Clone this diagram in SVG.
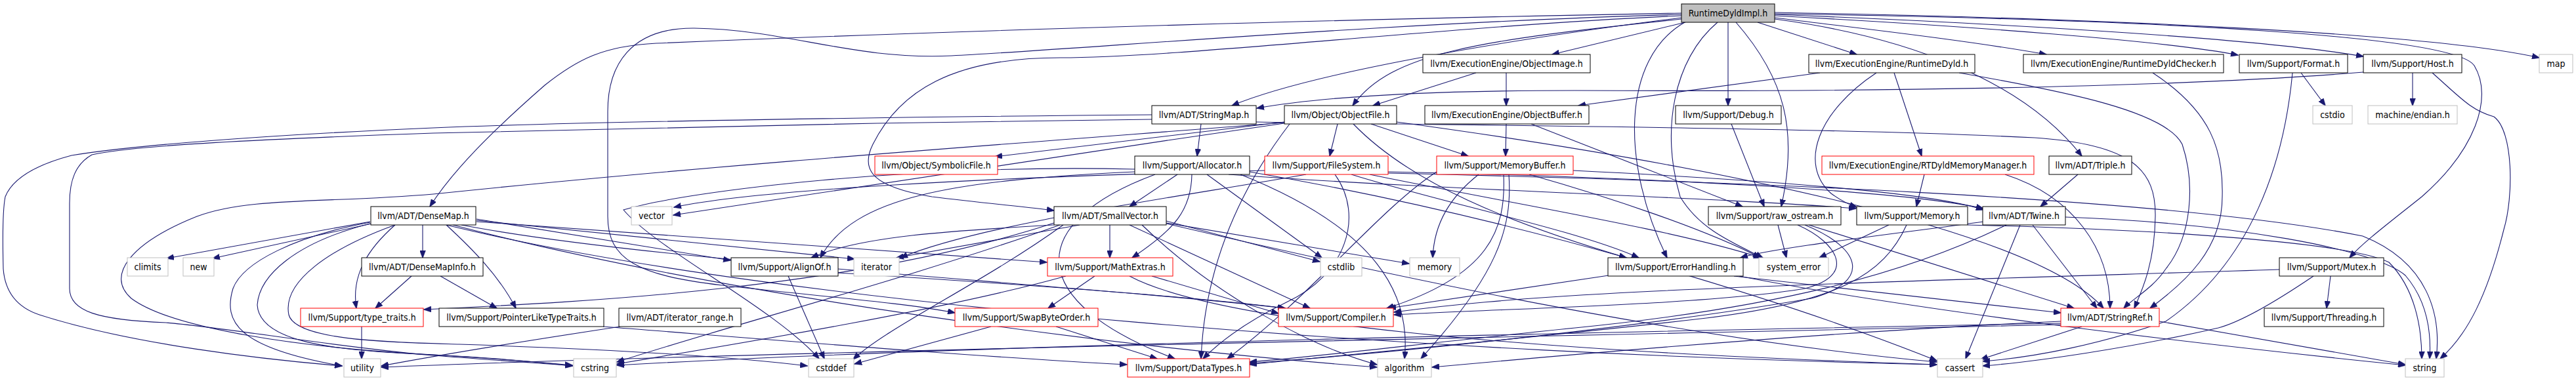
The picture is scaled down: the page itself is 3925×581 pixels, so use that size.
<svg xmlns="http://www.w3.org/2000/svg" width="3925" height="581" viewBox="0 0 3925 581">
<style>
rect{fill:#fff;stroke:#000;stroke-width:1}
.r rect{stroke:#ff0000}
.g rect{stroke:#bfbfbf}
.root rect{fill:#bfbfbf}
text{font-family:"DejaVu Sans Condensed","Liberation Sans",sans-serif;font-size:14px;text-anchor:middle;fill:#000}
#edges path{fill:none;stroke:#191970;stroke-width:1.1;marker-end:url(#a)}
</style>
<defs>
<marker id="a" viewBox="0 0 12 9" refX="11" refY="4.5" markerWidth="12" markerHeight="9" markerUnits="userSpaceOnUse" orient="auto"><path d="M0,0L12,4.5L0,9z" fill="#191970" stroke="#191970" stroke-width="0.5"/></marker>
</defs>
<g id="edges">
<path d="M2568,34 L2365,83"/>
<path d="M2562,29 C2250,62 2120,80 2061,161"/>
<path d="M2678,34 L2829,83"/>
<path d="M2704,27 C2850,45 3000,62 3118,83"/>
<path d="M2704,24 C3000,40 3300,62 3410,84"/>
<path d="M2704,22 C3100,38 3450,60 3601,86"/>
<path d="M2704,19 C3200,28 3700,50 3869,88"/>
<path d="M2633,34 L2633,161"/>
<path d="M2562,27 C2300,60 2000,110 1877,161"/>
<path d="M2704,21 C3300,30 3740,55 3770,100 C3800,150 3770,230 3690,300 C3640,340 3600,370 3580,393"/>
<path d="M2704,29 C2900,55 3080,120 3172,238"/>
<path d="M2645,34 C2720,120 2740,200 2714,315"/>
<path d="M2567,34 C2470,90 2470,250 2540,393"/>
<path d="M2562,20 C2100,28 1500,45 1000,66 C920,70 880,90 830,130 C750,200 690,260 655,315"/>
<path d="M2562,24 C2200,40 1800,88 1616,88 C1450,88 1370,140 1330,220 C1310,260 1330,285 1420,300 C1500,310 1560,315 1606,321"/>
<path d="M2562,22 C2100,35 1650,75 1450,85 C1300,92 1200,45 1058,43 C960,42 926,100 926,170 L926,330 C926,395 970,420 1100,435 C1250,452 1380,462 1455,477"/>
<path d="M2617,34 C2550,90 2530,200 2560,300 C2590,350 2640,370 2686,393"/>
<path d="M1830,189 L1824,238"/>
<path d="M1914,186 C2300,192 2800,195 3100,210 C3250,220 3285,260 3284,330 C3283,400 3265,440 3252,470"/>
<path d="M1755,182 C1400,186 900,195 660,203 C400,212 200,222 140,236 C115,250 106,275 106,310 L106,440 C106,475 150,488 253,492 C350,500 500,528 660,542 C760,550 830,554 872,558"/>
<path d="M1755,175 C1400,178 900,185 660,195 C400,206 200,222 109,237 C60,250 20,270 8,300 C4,320 4,370 5,410 C8,450 30,470 60,480 C200,525 400,548 521,558"/>
<path d="M2249,111 L2092,161"/>
<path d="M2295,111 L2295,161"/>
<path d="M2295,189 L2294,238"/>
<path d="M2333,189 L2655,315"/>
<path d="M2773,111 L2405,161"/>
<path d="M2886,111 L2928,238"/>
<path d="M2859,111 C2770,170 2740,250 2790,295 C2805,306 2815,311 2829,316"/>
<path d="M2985,111 C3150,140 3300,170 3325,220 C3345,280 3340,360 3300,410 C3280,440 3250,455 3236,470"/>
<path d="M3280,111 C3370,170 3388,230 3386,300 C3386,380 3330,430 3276,470"/>
<path d="M2932,266 L2920,315"/>
<path d="M3055,266 C3160,300 3215,380 3215,470"/>
<path d="M3166,266 L3109,315"/>
<path d="M2638,189 L2688,315"/>
<path d="M3506,111 L3543,161"/>
<path d="M3493,111 C3480,250 3430,400 3300,490 C3200,525 3100,545 3021,551"/>
<path d="M3676,111 L3676,161"/>
<path d="M3601,110 C3300,135 2800,140 2400,138 C2150,138 2000,150 1915,165"/>
<path d="M3706,111 C3750,150 3765,168 3800,178 C3830,200 3830,300 3815,350 C3790,450 3760,510 3718,547"/>
<path d="M3551,421 L3545,470"/>
<path d="M3473,411 C3200,420 2800,430 2500,445 C2300,455 2200,466 2124,476"/>
<path d="M3525,421 C3460,465 3410,492 3380,500 C3250,530 3100,552 3021,558"/>
<path d="M3097,343 L3195,470"/>
<path d="M3078,343 L2995,547"/>
<path d="M3057,343 C2900,420 2700,470 2400,500 C2200,520 2000,545 1904,552"/>
<path d="M3022,338 C2900,355 2700,378 2652,393"/>
<path d="M3147,331 C3400,340 3620,380 3665,420 C3695,455 3705,500 3702,547"/>
<path d="M2878,343 L2772,393"/>
<path d="M2905,343 C2870,420 2800,460 2600,485 C2300,520 2000,545 1904,556"/>
<path d="M2998,343 C3300,350 3580,370 3640,400 C3680,440 3690,500 3690,547"/>
<path d="M2709,343 L2722,393"/>
<path d="M2756,343 L3160,470"/>
<path d="M2739,343 C2800,370 2830,420 2750,440 C2600,465 2300,470 2124,480"/>
<path d="M2750,343 C2840,380 2850,430 2760,455 C2500,500 2100,540 1904,554"/>
<path d="M2642,421 L3140,477"/>
<path d="M2650,421 C2900,470 3300,520 3665,557"/>
<path d="M2451,420 L2116,470"/>
<path d="M3172,498 L3018,548"/>
<path d="M3290,490 L3665,556"/>
<path d="M3140,490 C2800,505 2400,540 2182,560"/>
<path d="M3140,493 C2500,505 1500,525 940,557"/>
<path d="M3140,495 C2500,510 1200,535 581,560"/>
<path d="M1668,421 L1597,470"/>
<path d="M1755,421 L1948,478"/>
<path d="M1721,421 C1850,490 2300,535 2951,556"/>
<path d="M1624,421 C1450,470 1150,520 940,555"/>
<path d="M1609,498 L1763,547"/>
<path d="M1510,498 L1302,555"/>
<path d="M919,498 C1200,520 1500,545 1717,556"/>
<path d="M945,498 C800,520 650,545 581,558"/>
<path d="M551,498 L551,547"/>
<path d="M671,421 L757,470"/>
<path d="M627,421 L572,470"/>
<path d="M1201,421 L1256,547"/>
<path d="M1277,416 C1500,430 1800,450 1958,470"/>
<path d="M564,338 L254,394"/>
<path d="M566,341 L324,394"/>
<path d="M644,343 L644,393"/>
<path d="M602,343 C560,380 535,420 543,470"/>
<path d="M564,339 C450,360 370,400 355,440 C340,490 360,530 521,558"/>
<path d="M564,341 C450,370 395,420 392,465 C395,520 500,535 660,541 C760,546 820,552 872,558"/>
<path d="M602,343 C500,380 430,430 440,480 C450,520 600,522 700,525 C1000,535 1150,548 1230,558"/>
<path d="M680,343 C720,380 760,420 786,470"/>
<path d="M726,334 L1113,397"/>
<path d="M726,336 L1302,395"/>
<path d="M726,338 L1595,400"/>
<path d="M703,343 C1000,400 1600,430 1958,470"/>
<path d="M690,343 C1100,450 1700,530 2098,560"/>
<path d="M680,343 C1200,470 2200,540 2951,556"/>
<path d="M1691,343 L1691,393"/>
<path d="M1645,343 L1366,393"/>
<path d="M1606,343 C1450,352 1310,360 1236,393"/>
<path d="M1606,340 C1300,440 900,460 646,472"/>
<path d="M1721,343 L1996,470"/>
<path d="M1777,340 L2147,402"/>
<path d="M1777,337 L2011,399"/>
<path d="M1740,343 C1850,450 2000,530 2098,556"/>
<path d="M1777,341 C2200,440 2600,520 2951,552"/>
<path d="M1620,343 C1500,430 1350,500 1300,548"/>
<path d="M1615,343 C1400,420 1100,500 940,552"/>
<path d="M1794,266 L1721,315"/>
<path d="M1816,266 C1815,320 1790,350 1725,393"/>
<path d="M1839,266 L2014,393"/>
<path d="M1872,266 C2200,290 2600,300 2828,318"/>
<path d="M1729,262 C1450,275 1300,300 1250,393"/>
<path d="M1760,266 C1560,340 1560,460 1790,547"/>
<path d="M1890,266 C2100,350 2150,450 2140,547"/>
<path d="M1904,262 C2300,330 2700,450 2951,550"/>
<path d="M1729,258 C1400,250 1050,290 950,320 C1000,380 1180,470 1248,547"/>
<path d="M2038,189 L2026,238"/>
<path d="M2089,189 L2237,238"/>
<path d="M1957,186 L1516,239"/>
<path d="M2128,186 C2600,250 3100,350 3205,470"/>
<path d="M2062,189 C2150,280 2300,340 2478,393"/>
<path d="M1965,189 C1880,300 1835,420 1830,547"/>
<path d="M1957,187 C1600,215 1100,250 660,296 C500,310 380,300 300,330 C200,370 160,420 200,455 C260,500 450,530 660,541 C760,547 830,553 872,557"/>
<path d="M1957,188 C1600,240 1200,300 1026,328"/>
<path d="M1927,260 C1500,270 1150,290 1027,316"/>
<path d="M1990,266 C1800,300 1500,340 1372,393"/>
<path d="M2115,262 C2500,270 2900,290 3022,318"/>
<path d="M2034,266 C2080,330 2050,420 1960,461 C1900,490 1860,520 1833,547"/>
<path d="M2059,266 C2200,310 2400,350 2497,393"/>
<path d="M2115,264 C2600,275 3300,300 3600,360 C3700,400 3720,480 3712,547"/>
<path d="M2087,266 C2300,310 2550,350 2683,393"/>
<path d="M2253,266 C2210,300 2185,340 2183,393"/>
<path d="M2291,266 C2295,350 2270,420 2113,470"/>
<path d="M2299,266 C2305,350 2280,420 2165,547"/>
<path d="M2189,262 C2100,320 2000,450 1870,547"/>
<path d="M2330,266 C2450,300 2600,350 2682,393"/>
<path d="M2397,260 C2700,275 2950,295 3022,320"/>
</g>
<g id="root" class="root"><rect x="2562" y="6" width="142" height="28"/><text x="2633" y="25">RuntimeDyldImpl.h</text></g>
<g id="objimg"><rect x="2168" y="83" width="255" height="28"/><text x="2295.5" y="102">llvm/ExecutionEngine/ObjectImage.h</text></g>
<g id="rtdyld"><rect x="2756" y="83" width="253" height="28"/><text x="2882.5" y="102">llvm/ExecutionEngine/RuntimeDyld.h</text></g>
<g id="checker"><rect x="3083" y="83" width="305" height="28"/><text x="3235.5" y="102">llvm/ExecutionEngine/RuntimeDyldChecker.h</text></g>
<g id="format"><rect x="3412" y="83" width="165" height="28"/><text x="3494.5" y="102">llvm/Support/Format.h</text></g>
<g id="host"><rect x="3601" y="83" width="150" height="28"/><text x="3676" y="102">llvm/Support/Host.h</text></g>
<g id="map" class="g"><rect x="3869" y="83" width="51" height="28"/><text x="3894.5" y="102">map</text></g>
<g id="strmap"><rect x="1755" y="161" width="159" height="28"/><text x="1834.5" y="180">llvm/ADT/StringMap.h</text></g>
<g id="objfile"><rect x="1957" y="161" width="171" height="28"/><text x="2042.5" y="180">llvm/Object/ObjectFile.h</text></g>
<g id="objbuf"><rect x="2171" y="161" width="250" height="28"/><text x="2296" y="180">llvm/ExecutionEngine/ObjectBuffer.h</text></g>
<g id="debug"><rect x="2553" y="161" width="161" height="28"/><text x="2633.5" y="180">llvm/Support/Debug.h</text></g>
<g id="cstdio" class="g"><rect x="3524" y="161" width="60" height="28"/><text x="3554" y="180">cstdio</text></g>
<g id="endian" class="g"><rect x="3608" y="161" width="136" height="28"/><text x="3676" y="180">machine/endian.h</text></g>
<g id="symfile" class="r"><rect x="1333" y="238" width="187" height="28"/><text x="1426.5" y="257">llvm/Object/SymbolicFile.h</text></g>
<g id="alloc"><rect x="1729" y="238" width="175" height="28"/><text x="1816.5" y="257">llvm/Support/Allocator.h</text></g>
<g id="fs" class="r"><rect x="1927" y="238" width="188" height="28"/><text x="2021" y="257">llvm/Support/FileSystem.h</text></g>
<g id="membuf" class="r"><rect x="2189" y="238" width="208" height="28"/><text x="2293" y="257">llvm/Support/MemoryBuffer.h</text></g>
<g id="rtdmm" class="r"><rect x="2776" y="238" width="323" height="28"/><text x="2937.5" y="257">llvm/ExecutionEngine/RTDyldMemoryManager.h</text></g>
<g id="triple"><rect x="3122" y="238" width="126" height="28"/><text x="3185" y="257">llvm/ADT/Triple.h</text></g>
<g id="densemap"><rect x="565" y="315" width="160" height="28"/><text x="645" y="334">llvm/ADT/DenseMap.h</text></g>
<g id="vector" class="g"><rect x="962" y="315" width="62" height="28"/><text x="993" y="334">vector</text></g>
<g id="smallvec"><rect x="1606" y="315" width="171" height="28"/><text x="1691.5" y="334">llvm/ADT/SmallVector.h</text></g>
<g id="rawos"><rect x="2603" y="315" width="202" height="28"/><text x="2704" y="334">llvm/Support/raw_ostream.h</text></g>
<g id="memh"><rect x="2829" y="315" width="169" height="28"/><text x="2913.5" y="334">llvm/Support/Memory.h</text></g>
<g id="twine"><rect x="3021" y="315" width="126" height="28"/><text x="3084" y="334">llvm/ADT/Twine.h</text></g>
<g id="climits" class="g"><rect x="194" y="393" width="62" height="28"/><text x="225" y="412">climits</text></g>
<g id="new" class="g"><rect x="279" y="393" width="47" height="28"/><text x="302.5" y="412">new</text></g>
<g id="dmi"><rect x="551" y="393" width="185" height="28"/><text x="643.5" y="412">llvm/ADT/DenseMapInfo.h</text></g>
<g id="alignof"><rect x="1114" y="393" width="163" height="28"/><text x="1195.5" y="412">llvm/Support/AlignOf.h</text></g>
<g id="iterator" class="g"><rect x="1301" y="393" width="69" height="28"/><text x="1335.5" y="412">iterator</text></g>
<g id="mathext" class="r"><rect x="1596" y="393" width="191" height="28"/><text x="1691.5" y="412">llvm/Support/MathExtras.h</text></g>
<g id="cstdlib" class="g"><rect x="2012" y="393" width="63" height="28"/><text x="2043.5" y="412">cstdlib</text></g>
<g id="memory" class="g"><rect x="2148" y="393" width="76" height="28"/><text x="2186" y="412">memory</text></g>
<g id="errh"><rect x="2450" y="393" width="206" height="28"/><text x="2553" y="412">llvm/Support/ErrorHandling.h</text></g>
<g id="syserr" class="g"><rect x="2680" y="393" width="106" height="28"/><text x="2733" y="412">system_error</text></g>
<g id="mutex"><rect x="3473" y="393" width="159" height="28"/><text x="3552.5" y="412">llvm/Support/Mutex.h</text></g>
<g id="typetraits" class="r"><rect x="458" y="470" width="187" height="28"/><text x="551.5" y="489">llvm/Support/type_traits.h</text></g>
<g id="pltt"><rect x="669" y="470" width="251" height="28"/><text x="794.5" y="489">llvm/Support/PointerLikeTypeTraits.h</text></g>
<g id="itrange"><rect x="943" y="470" width="186" height="28"/><text x="1036" y="489">llvm/ADT/iterator_range.h</text></g>
<g id="swap" class="r"><rect x="1455" y="470" width="218" height="28"/><text x="1564" y="489">llvm/Support/SwapByteOrder.h</text></g>
<g id="compiler" class="r"><rect x="1948" y="470" width="175" height="28"/><text x="2035.5" y="489">llvm/Support/Compiler.h</text></g>
<g id="strref" class="r"><rect x="3140" y="470" width="150" height="28"/><text x="3215" y="489">llvm/ADT/StringRef.h</text></g>
<g id="threading"><rect x="3450" y="470" width="182" height="28"/><text x="3541" y="489">llvm/Support/Threading.h</text></g>
<g id="utility" class="g"><rect x="524" y="547" width="56" height="28"/><text x="552" y="566">utility</text></g>
<g id="cstring" class="g"><rect x="874" y="547" width="65" height="28"/><text x="906.5" y="566">cstring</text></g>
<g id="cstddef" class="g"><rect x="1232" y="547" width="69" height="28"/><text x="1266.5" y="566">cstddef</text></g>
<g id="datatypes" class="r"><rect x="1718" y="547" width="186" height="28"/><text x="1811" y="566">llvm/Support/DataTypes.h</text></g>
<g id="algorithm" class="g"><rect x="2099" y="547" width="82" height="28"/><text x="2140" y="566">algorithm</text></g>
<g id="cassert" class="g"><rect x="2952" y="547" width="69" height="28"/><text x="2986.5" y="566">cassert</text></g>
<g id="string" class="g"><rect x="3665" y="547" width="59" height="28"/><text x="3694.5" y="566">string</text></g>
</svg>
